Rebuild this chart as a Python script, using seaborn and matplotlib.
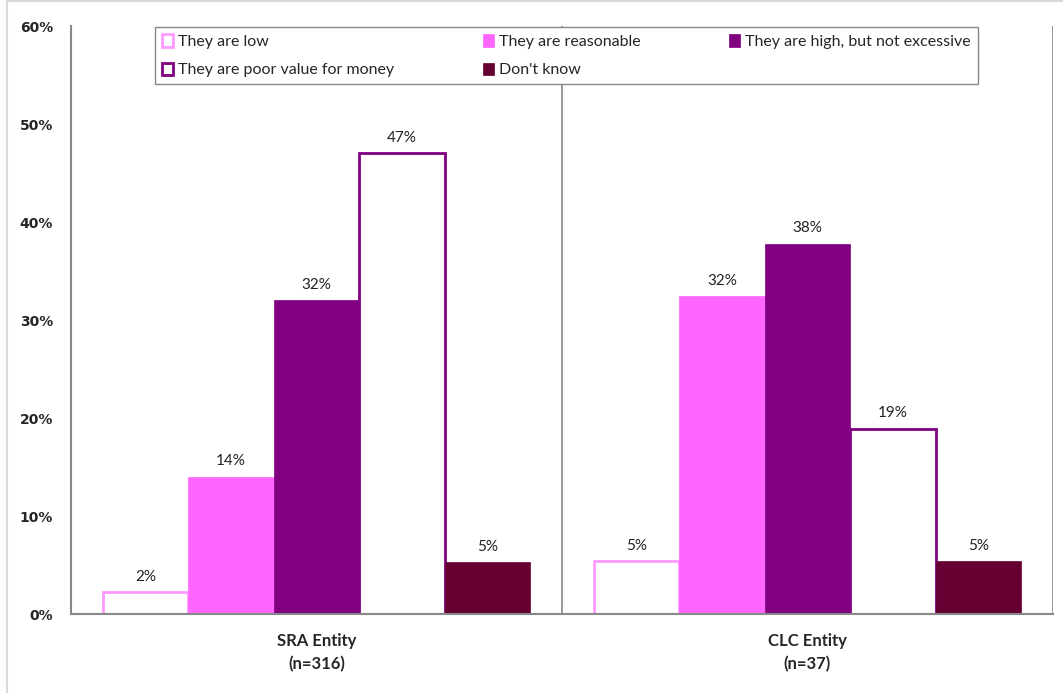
import pandas as pd
import numpy as np

import seaborn as sns
import matplotlib.pyplot as plt
from matplotlib.patches import Patch, Rectangle

# data (percent)
entities = ["SRA Entity\n(n=316)", "CLC Entity\n(n=37)"]
answers = ["They are low", "They are reasonable", "They are high, but not excessive",
           "They are poor value for money", "Don't know"]
sra_values = [2.2, 14.0, 32.0, 47.0, 5.3]
clc_values = [5.4, 32.4, 37.8, 18.9, 5.4]

fills = ["#FFFFFF", "#FF66FF", "#800080", "#FFFFFF", "#660033"]
edges = ["#FF99FF", "#FF66FF", "#800080", "#800080", "#660033"]

df = pd.DataFrame({
    "entity": np.repeat(entities, len(answers)),
    "answer": answers * len(entities),
    "value": sra_values + clc_values,
})

sns.set_style("white")
plt.rcParams["font.family"] = ["Lato", "DejaVu Sans"]

fig = plt.figure(figsize=(10.63, 6.93), dpi=100)
ax = fig.add_axes([71 / 1063, 1 - 614 / 693, 982 / 1063, 588 / 693])

sns.barplot(data=df, x="entity", y="value", hue="answer", hue_order=answers,
            palette=fills, width=0.87, gap=0, ax=ax, legend=False, saturation=1)

for cont, fc, ec in zip(ax.containers, fills, edges):
    for bar in cont:
        bar.set_facecolor(fc)
        bar.set_edgecolor(ec)
        bar.set_linewidth(2 if fc == "#FFFFFF" else 0.5)
    ax.bar_label(cont, labels=[f"{round(b.get_height()):.0f}%" for b in cont],
                 padding=6, fontsize=11, color="#222222")

ax.set_xlim(-0.5, 1.5)
ax.set_ylim(0, 60)
ax.set_yticks(range(0, 61, 10))
ax.set_yticklabels([f"{v}%" for v in range(0, 61, 10)], fontsize=10,
                   fontweight="bold", family="DejaVu Sans")
ax.set_xticks([0, 1])
ax.set_xticklabels(entities, fontsize=12, fontweight="bold", linespacing=1.5)
ax.set_xlabel("")
ax.set_ylabel("")
ax.tick_params(axis="x", length=0, pad=14)
ax.tick_params(axis="y", direction="inout", length=10, width=1.2, color="#888888", pad=8)

# category boundary lines
ax.set_xticks([-0.5, 0.5, 1.5], minor=True)
ax.tick_params(axis="x", which="minor", direction="out", length=6, width=1.2, color="#888888")
for xb in [0.5, 1.5]:
    ax.axvline(xb, color="#888888", lw=1.2, zorder=0)

for side in ["top", "right"]:
    ax.spines[side].set_visible(False)
for side in ["left", "bottom"]:
    ax.spines[side].set_color("#888888")
    ax.spines[side].set_linewidth(1.5)

handles = [Patch(facecolor=fc, edgecolor=ec, linewidth=2 if fc == "#FFFFFF" else 0.5)
           for fc, ec in zip(fills, edges)]
order = [0, 3, 1, 4, 2]
leg = ax.legend([handles[i] for i in order], [answers[i] for i in order],
                ncol=3, loc="upper left", mode="expand",
                bbox_to_anchor=(84 / 982, 0.9, 823 / 982, 0.098),
                fancybox=False, edgecolor="#888888", framealpha=1, fontsize=11.5,
                handlelength=0.7, handleheight=0.8, handletextpad=0.3,
                labelspacing=0.85, borderpad=0.45, borderaxespad=0)
leg.get_frame().set_linewidth(1.0)

# chart area frame
fig.add_artist(Rectangle((7 / 1063, -0.01), 1.1, 1.008, transform=fig.transFigure,
                         fill=False, edgecolor="#D9D9D9", lw=1.5))

fig.savefig("out.png", dpi=100)
